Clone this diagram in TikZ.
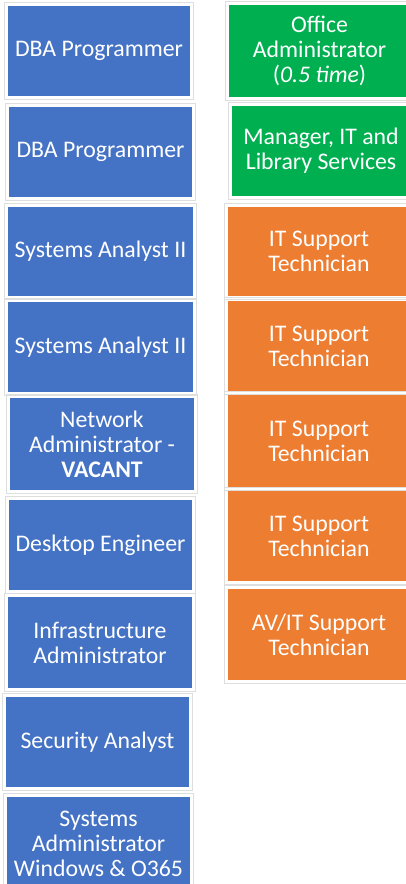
\documentclass[tikz,border=0pt]{standalone}
\usepackage{fontspec}
\setmainfont{Carlito}
\definecolor{bblue}{HTML}{4472C4}
\definecolor{bgreen}{HTML}{00B050}
\definecolor{borange}{HTML}{ED7D31}
\begin{document}
\begin{tikzpicture}[x=1pt,y=-1pt,
  role/.style={rectangle, draw=none, text=white, align=center, inner sep=0pt,
    font=\fontsize{23.8}{25}\selectfont},
  bluebox/.style={role, fill=bblue},
  greenbox/.style={role, fill=bgreen},
  orangebox/.style={role, fill=borange},
  frame/.style={draw=black!13, line width=0.8pt}]
\useasboundingbox (0,0) rectangle (406,884);
\clip (0,0) rectangle (406,884);
% left column
\node[bluebox, minimum width=182pt, minimum height=90pt] (l1) at (99,51) {DBA Programmer};
\node[bluebox, minimum width=183pt, minimum height=90pt] (l2) at (100.5,152) {DBA Programmer};
\node[bluebox, minimum width=185pt, minimum height=89pt] (l3) at (100.5,251.5) {Systems Analyst II};
\node[bluebox, minimum width=185pt, minimum height=90pt] (l4) at (100.5,347) {Systems Analyst II};
\node[bluebox, minimum width=184pt, minimum height=92pt] (l5) at (102,444) {Network\\Administrator -\\\textbf{VACANT}};
\node[bluebox, minimum width=183pt, minimum height=90pt] (l6) at (100.5,545) {Desktop Engineer};
\node[bluebox, minimum width=184pt, minimum height=91pt] (l7) at (100,642.5) {Infrastructure\\Administrator};
\node[bluebox, minimum width=183pt, minimum height=90pt] (l8) at (97.5,742) {Security Analyst};
\node[bluebox, minimum width=183pt, minimum height=93pt] (l9) at (98.5,843.5) {Systems\\Administrator\\Windows \& O365};
% right column
\node[greenbox, minimum width=181pt, minimum height=92pt] (r1) at (319.5,51) {Office\\Administrator\\(\textit{0.5 time})};
\node[greenbox, minimum width=178pt, minimum height=90pt] (r2) at (321,151) {Manager, IT and\\Library Services};
\node[orangebox, minimum width=182pt, minimum height=89pt] (r3) at (319,251.5) {IT Support\\Technician};
\node[orangebox, minimum width=182pt, minimum height=90pt] (r4) at (319,346) {IT Support\\Technician};
\node[orangebox, minimum width=182pt, minimum height=92pt] (r5) at (319,441) {IT Support\\Technician};
\node[orangebox, minimum width=182pt, minimum height=90pt] (r6) at (319,536) {IT Support\\Technician};
\node[orangebox, minimum width=182pt, minimum height=91pt] (r7) at (319,634.5) {AV/IT Support\\Technician};
% light frames around the boxes
\foreach \n in {l1,l2,l3,l4,l5,l6,l7,l8,l9,r1,r2,r3,r4,r5,r6,r7}{
  \draw[frame] ([shift={(-3,-3)}]\n.north west) rectangle ([shift={(3,3)}]\n.south east);
}
\end{tikzpicture}
\end{document}
